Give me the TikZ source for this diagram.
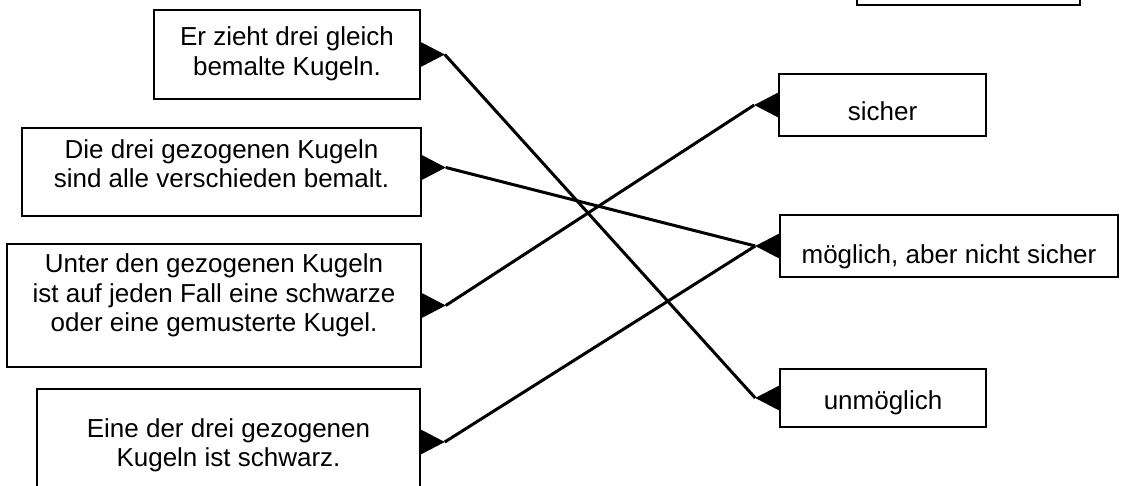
\documentclass[tikz,border=0pt]{standalone}
\usepackage{fontspec}
\setmainfont{Liberation Sans}
\newcommand\liftby[2]{\raisebox{#1}[\height][\depth]{#2}}
\tikzset{
  box/.style={draw, line width=1.5pt, fill=white, inner sep=0pt, align=center},
  conn/.style={line width=3pt},
  tri/.style={fill=black},
}
\begin{document}
\begin{tikzpicture}[x=1pt,y=-1pt,font=\fontsize{26}{29.5}\selectfont]
\clip (0,0) rectangle (1125,486);
% left boxes
\node[box, minimum width=266pt, minimum height=89pt] (b1) at (287,54.5)
  {\liftby{0pt}{\begin{tabular}{@{}c@{}}Er zieht drei gleich\\bemalte Kugeln.\end{tabular}}};
\node[box, minimum width=399pt, minimum height=88pt] (b2) at (221.5,172)
  {\liftby{5pt}{\begin{tabular}{@{}c@{}}Die drei gezogenen Kugeln\\sind alle verschieden bemalt.\end{tabular}}};
\node[box, minimum width=414pt, minimum height=123pt] (b3) at (214,305.5)
  {\liftby{9pt}{\begin{tabular}{@{}c@{}}Unter den gezogenen Kugeln\\ist auf jeden Fall eine schwarze\\oder eine gemusterte Kugel.\end{tabular}}};
\node[box, minimum width=383pt, minimum height=106pt] (b4) at (228.5,442)
  {\liftby{-4pt}{\begin{tabular}{@{}c@{}}Eine der drei gezogenen\\Kugeln ist schwarz.\end{tabular}}};
% right boxes
\node[box, minimum width=223pt, minimum height=65pt] (t) at (968.5,-27.5) {};
\node[box, minimum width=207pt, minimum height=62pt] (s) at (882.5,105)
  {\liftby{-6pt}{sicher}};
\node[box, minimum width=338pt, minimum height=62pt] (m) at (949,246)
  {\liftby{-11pt}{möglich, aber nicht sicher}};
\node[box, minimum width=206pt, minimum height=58pt] (u) at (883,398)
  {\liftby{-5pt}{unmöglich}};
% arrow apex points
\coordinate (a1) at ([xshift=24pt]b1.east);
\coordinate (a2) at ([xshift=24pt,yshift=4.5pt]b2.east);
\coordinate (a3) at ([xshift=24pt]b3.east);
\coordinate (a4) at ([xshift=24pt]b4.east);
\coordinate (as) at ([xshift=-24pt]s.west);
\coordinate (am) at ([xshift=-24pt]m.west);
\coordinate (au) at ([xshift=-24pt]u.west);
% triangles
\fill[tri] ([yshift=12.5pt]b1.east) -- (a1) -- ([yshift=-12.5pt]b1.east) -- cycle;
\fill[tri] ([yshift=17pt]b2.east) -- (a2) -- ([yshift=-8pt]b2.east) -- cycle;
\fill[tri] ([yshift=12.5pt]b3.east) -- (a3) -- ([yshift=-12.5pt]b3.east) -- cycle;
\fill[tri] ([yshift=12.5pt]b4.east) -- (a4) -- ([yshift=-12.5pt]b4.east) -- cycle;
\fill[tri] ([yshift=12.5pt]s.west) -- (as) -- ([yshift=-12.5pt]s.west) -- cycle;
\fill[tri] ([yshift=12.5pt]m.west) -- (am) -- ([yshift=-12.5pt]m.west) -- cycle;
\fill[tri] ([yshift=12.5pt]u.west) -- (au) -- ([yshift=-12.5pt]u.west) -- cycle;
% connectors
\draw[conn] (a1) -- (au);
\draw[conn] (a2) -- (am);
\draw[conn] (a3) -- (as);
\draw[conn] (a4) -- (am);
\end{tikzpicture}
\end{document}
